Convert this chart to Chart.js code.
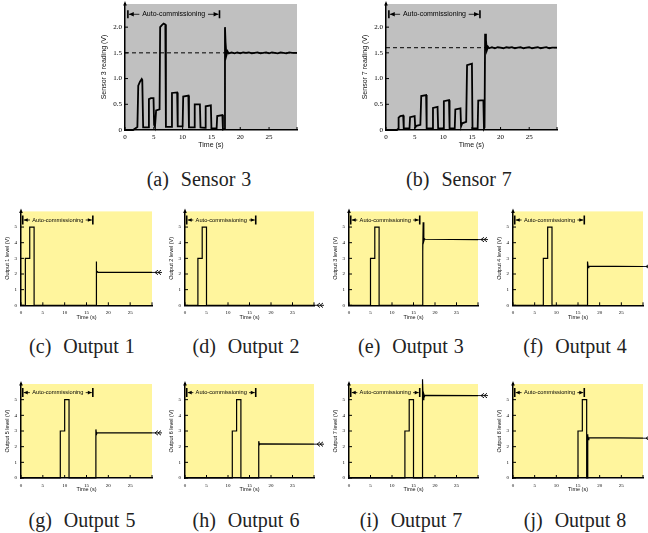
<!DOCTYPE html>
<html>
<head>
<meta charset="utf-8">
<script src="https://cdn.jsdelivr.net/npm/chart.js@4.4.0/dist/chart.umd.min.js"></script>
<style>
  html, body { margin: 0; padding: 0; background: #fff; }
  body { width: 648px; height: 533px; position: relative; overflow: hidden; }
  canvas { position: absolute; }
  .cap { position: absolute; width: 200px; text-align: center; white-space: pre; word-spacing: 1px;
         font-family: "Liberation Serif", serif; font-size: 20px; line-height: 20px; color: #222; }
</style>
</head>
<body>
<script>
// [time (s), volts]
const sensor3 = [
  [0, 0], [1.4, 0], [1.9, 0.04], [2.15, 0.06], [2.3, 0.86], [2.6, 0.94], [2.9, 0.99], [3.0, 0.97],
  [3.15, 0.05], [4.0, 0.05], [4.15, 0.6], [4.5, 0.62], [4.95, 0.62], [5.05, 0.1], [5.2, 0.06],
  [5.4, 0.38], [6.0, 0.4], [6.1, 2.0], [6.4, 2.04], [6.7, 2.07], [7.0, 2.05], [7.1, 0.06],
  [8.0, 0.06], [8.15, 0.72], [9.05, 0.73], [9.15, 0.07], [10.0, 0.07], [10.1, 0.65], [11.0, 0.67],
  [11.1, 0.05], [12.0, 0.05], [12.1, 0.5], [13.0, 0.5], [13.1, 0.05], [13.9, 0.04], [14.0, 0.46],
  [14.9, 0.48], [15.0, 0.03], [15.9, 0.03], [16.0, 0.27], [16.9, 0.29], [17.0, 0.01], [17.25, 0.02],
  [17.35, 2.0], [17.45, 1.7], [17.6, 1.45], [17.8, 1.53], [18.0, 1.49], [18.5, 1.51], [19.0, 1.49],
  [19.5, 1.51], [20.0, 1.49], [20.5, 1.51], [21.0, 1.5], [21.5, 1.51], [22.0, 1.49], [22.5, 1.5],
  [23.0, 1.51], [23.5, 1.49], [24.0, 1.5], [24.5, 1.51], [25.0, 1.49], [25.5, 1.51], [26.0, 1.5],
  [26.5, 1.49], [27.0, 1.51], [27.5, 1.5], [28.0, 1.49], [28.5, 1.51], [29.0, 1.5], [29.85, 1.5]
];
const sensor7 = [
  [0, 0], [1.9, 0], [2.1, 0.02], [2.2, 0.24], [2.5, 0.27], [3.0, 0.28], [3.1, 0.03], [4.1, 0.03],
  [4.2, 0.25], [5.0, 0.27], [5.1, 0.05], [5.3, 0.08], [6.0, 0.1], [6.15, 0.66], [7.0, 0.68],
  [7.1, 0.03], [8.1, 0.03], [8.2, 0.43], [9.0, 0.45], [9.1, 0.03], [10.0, 0.03], [10.1, 0.56],
  [11.0, 0.58], [11.1, 0.03], [12.0, 0.03], [12.1, 0.4], [13.0, 0.42], [13.1, 0.07], [13.3, 0.13],
  [14.0, 0.16], [14.15, 1.26], [15.0, 1.29], [15.1, 0.03], [16.0, 0.03], [16.1, 0.57], [17.0, 0.58],
  [17.1, 0.03], [17.2, 0.05], [17.3, 1.87], [17.45, 1.75], [17.6, 1.55], [17.8, 1.62], [18.0, 1.59],
  [18.5, 1.61], [19.0, 1.59], [19.5, 1.61], [20.0, 1.6], [20.5, 1.59], [21.0, 1.61], [21.5, 1.6],
  [22.0, 1.61], [22.5, 1.59], [23.0, 1.6], [23.5, 1.61], [24.0, 1.59], [24.5, 1.6], [25.0, 1.61],
  [25.5, 1.59], [26.0, 1.6], [26.5, 1.61], [27.0, 1.59], [27.5, 1.6], [28.0, 1.61], [28.5, 1.59],
  [29.0, 1.6], [29.85, 1.6]
];
const sensor3Target = [[0, 1.5], [29.85, 1.5]];
const sensor7Target = [[0, 1.6], [29.85, 1.6]];

const output1 = [[0, 0], [1, 0], [1, 3], [2, 3], [2, 5], [3, 5], [3, 0], [17.2, 0], [17.2, 2.8], [17.35, 2.05], [17.5, 2.15], [17.7, 2.1], [30, 2.1]];
const output2 = [[0, 0], [3, 0], [3, 3], [4, 3], [4, 5], [5, 5], [5, 0], [30, 0]];
const output3 = [[0, 0], [5, 0], [5, 3], [6, 3], [6, 5], [7, 5], [7, 0], [17.1, 0], [17.1, 3.3], [17.15, 4.0], [17.2, 3.4], [17.25, 5.3], [17.4, 4.1], [17.55, 4.25], [17.7, 4.22], [30, 4.2]];
const output4 = [[0, 0], [7, 0], [7, 3], [8, 3], [8, 5], [9, 5], [9, 0], [17.2, 0], [17.2, 2.8], [17.35, 2.4], [17.5, 2.5], [30, 2.48]];
const output5 = [[0, 0], [9, 0], [9, 3], [10, 3], [10, 5], [11, 5], [11, 0], [17.1, 0], [17.15, 3.1], [17.3, 2.8], [17.45, 2.9], [30, 2.88]];
const output6 = [[0, 0], [11, 0], [11, 3], [12, 3], [12, 5], [13, 5], [13, 0], [17.1, 0], [17.15, 2.35], [17.3, 2.12], [17.45, 2.18], [30, 2.16]];
const output7 = [[0, 0], [13, 0], [13, 3], [14, 3], [14, 5], [15, 5], [15, 0], [17.0, 0], [17.05, 6.3], [17.1, 0.5], [17.15, 6.2], [17.25, 5.0], [17.4, 5.35], [17.55, 5.2], [17.7, 5.28], [30, 5.26]];
const output8 = [[0, 0], [15, 0], [15, 3], [16, 3], [16, 5], [17, 5], [17, 0], [17.15, 0], [17.2, 2.8], [17.25, 2.3], [17.3, 2.7], [17.4, 2.45], [17.5, 2.58], [30, 2.54]];
const outputs = [output1, output2, output3, output4, output5, output6, output7, output8];

const annotationText = 'Auto-commissioning';

// look of the two kinds of panel
const kinds = {
  sensor: { yw: 25, xh: 19, padTop: 4, padRight: 6, tickFont: 7, titleFont: 7, annFont: 7,
            level: 2.25, span: [0.5, 16.4], xMax: 29.85, yMax: 2.45, yStep: 0.5, line: 1.8,
            bg: '#c0c0c0', xPad: 3, yPad: 3, barH: 4 },
  output: { yw: 17, xh: 15, padTop: 8, padRight: 13, tickFont: 5, titleFont: 5.5, annFont: 5.7,
            level: 5.45, span: [0.4, 16.45], xMax: 30, yMax: 6, yStep: 1, line: 1.2,
            bg: '#fff59d', xPad: 4.5, yPad: 4, barH: 4.5 }
};

const panels = [
  { kind: 'sensor', series: sensor3, target: sensor3Target, yTitle: 'Sensor 3 reading (V)', caption: '(a)  Sensor 3', box: [125, 4, 297, 130], cap: [199, 169] },
  { kind: 'sensor', series: sensor7, target: sensor7Target, yTitle: 'Sensor 7 reading (V)', caption: '(b)  Sensor 7', box: [386, 4, 557, 130], cap: [459, 169] }
];
const colL = [21, 185, 349, 513], colR = [152, 314, 478, 643], capX = [82, 246, 411, 575];
const rowT = [211.4, 384], rowB = [305.3, 478], capTop = [336, 510];
outputs.forEach((s, i) => {
  const c = i % 4, r = Math.floor(i / 4);
  panels.push({ kind: 'output', series: s, yTitle: 'Output ' + (i + 1) + ' level (V)',
    caption: '(' + 'cdefghij'[i] + ')  Output ' + (i + 1),
    box: [colL[c], rowT[r], colR[c], rowB[r]], cap: [capX[c], capTop[r]], marker: true });
});

const decor = {
  id: 'decor',
  beforeDraw(chart, args, o) {
    const { ctx, chartArea: a } = chart;
    ctx.save();
    ctx.fillStyle = o.bg;
    ctx.fillRect(a.left, a.top, a.right - a.left, a.bottom - a.top);
    ctx.restore();
  },
  afterDraw(chart, args, o) {
    const { ctx, chartArea: a, scales: { x, y } } = chart;
    ctx.save();
    ctx.strokeStyle = '#000';
    ctx.fillStyle = '#000';
    // inward tick marks
    ctx.lineWidth = 1;
    ctx.beginPath();
    x.ticks.forEach(t => {
      if (t.label == null || t.label === '') return;
      const px = x.getPixelForValue(t.value);
      ctx.moveTo(px, a.bottom); ctx.lineTo(px, a.bottom - 3);
    });
    y.ticks.forEach(t => {
      if (t.label == null || t.label === '') return;
      const py = y.getPixelForValue(t.value);
      ctx.moveTo(a.left, py); ctx.lineTo(a.left + 3, py);
    });
    ctx.moveTo(a.right, a.bottom); ctx.lineTo(a.right, a.bottom - 3);
    ctx.stroke();
    // arrow tip on the y axis
    ctx.beginPath();
    ctx.moveTo(a.left, a.top - 3);
    ctx.lineTo(a.left - 1.8, a.top + 1.5);
    ctx.lineTo(a.left + 1.8, a.top + 1.5);
    ctx.closePath();
    ctx.fill();
    // auto-commissioning span
    const yy = y.getPixelForValue(o.level);
    const x0 = x.getPixelForValue(o.span[0]), x1 = x.getPixelForValue(o.span[1]);
    ctx.font = o.annFont + 'px "Liberation Sans", sans-serif';
    ctx.textAlign = 'center';
    ctx.textBaseline = 'middle';
    const w = ctx.measureText(annotationText).width, cx = (x0 + x1) / 2, gap = o.annFont * 0.4;
    ctx.fillText(annotationText, cx, yy);
    ctx.lineWidth = 1.6;
    ctx.beginPath();
    ctx.moveTo(x0, yy - o.barH); ctx.lineTo(x0, yy + o.barH);
    ctx.moveTo(x1, yy - o.barH); ctx.lineTo(x1, yy + o.barH);
    ctx.stroke();
    ctx.lineWidth = 0.8;
    ctx.beginPath();
    ctx.moveTo(x0 + 1, yy); ctx.lineTo(cx - w / 2 - gap, yy);
    ctx.moveTo(cx + w / 2 + gap, yy); ctx.lineTo(x1 - 1, yy);
    ctx.stroke();
    const ah = o.annFont * 0.7;
    ctx.beginPath();
    ctx.moveTo(x0 + 1, yy); ctx.lineTo(x0 + 1 + ah, yy - ah * 0.45); ctx.lineTo(x0 + 1 + ah, yy + ah * 0.45);
    ctx.closePath();
    ctx.moveTo(x1 - 1, yy); ctx.lineTo(x1 - 1 - ah, yy - ah * 0.45); ctx.lineTo(x1 - 1 - ah, yy + ah * 0.45);
    ctx.closePath();
    ctx.fill();
    // end-of-trace marker
    if (o.marker) {
      const data = chart.data.datasets[0].data;
      const py = y.getPixelForValue(data[data.length - 1].y);
      const rx = a.right;
      ctx.lineWidth = 0.9;
      ctx.beginPath();
      ctx.moveTo(rx, py); ctx.lineTo(rx + 10, py);
      [rx + 3, rx + 6].forEach(c => {
        ctx.moveTo(c + 3, py - 2.3); ctx.lineTo(c, py); ctx.lineTo(c + 3, py + 2.3);
      });
      ctx.stroke();
    }
    ctx.restore();
  }
};

panels.forEach(p => {
  const k = kinds[p.kind];
  const [l, t, r, b] = p.box;
  const left = Math.floor(l - k.yw), top = Math.floor(t - k.padTop);
  const width = Math.ceil(r + k.padRight - left), height = Math.ceil(b + k.xh - top);
  const yw = l - left, xh = top + height - b;
  const cv = document.createElement('canvas');
  cv.width = width; cv.height = height;
  cv.style.left = left + 'px'; cv.style.top = top + 'px';
  document.body.appendChild(cv);

  const datasets = [{
    data: p.series.map(([x, y]) => ({ x, y })),
    borderColor: '#000', borderWidth: k.line, pointRadius: 0, tension: 0, clip: false
  }];
  if (p.target) {
    datasets.push({
      data: p.target.map(([x, y]) => ({ x, y })),
      borderColor: '#000', borderWidth: 1, borderDash: [4, 3], pointRadius: 0
    });
  }

  new Chart(cv, {
    type: 'line',
    data: { datasets },
    plugins: [decor],
    options: {
      responsive: false,
      animation: false,
      layout: { padding: { top: t - top, right: left + width - r, left: 0, bottom: 0 } },
      plugins: {
        legend: { display: false },
        tooltip: { enabled: false },
        decor: { ...k, marker: !!p.marker }
      },
      scales: {
        x: {
          type: 'linear', min: 0, max: k.xMax,
          grid: { display: false, drawTicks: false },
          border: { display: true, color: '#000', width: 1.5 },
          ticks: { stepSize: 5, includeBounds: false, padding: k.xPad, color: '#000', maxRotation: 0,
                   font: { family: '"Liberation Serif", serif', size: k.tickFont },
                   callback: v => (v % 5 === 0 && v <= 25 ? String(v) : null) },
          title: { display: true, text: 'Time (s)', color: '#111', padding: 0,
                   font: { family: '"Liberation Sans", sans-serif', size: k.titleFont } },
          afterFit: s => { s.height = xh; s.paddingLeft = 0; s.paddingRight = 0; }
        },
        y: {
          min: 0, max: k.yMax,
          grid: { display: false, drawTicks: false },
          border: { display: true, color: '#000', width: 1.5 },
          ticks: { stepSize: k.yStep, includeBounds: false, padding: k.yPad, color: '#000',
                   font: { family: '"Liberation Serif", serif', size: k.tickFont },
                   callback: v => {
                     if (p.kind === 'output') return v > 5 ? null : String(v);
                     return v === 0 ? '0' : v.toFixed(1);
                   } },
          title: { display: true, text: p.yTitle, color: '#111', padding: 0,
                   font: { family: '"Liberation Sans", sans-serif', size: k.titleFont } },
          afterFit: s => { s.width = yw; s.paddingTop = 0; s.paddingBottom = 0; }
        }
      }
    }
  });

  const cap = document.createElement('div');
  cap.className = 'cap';
  cap.textContent = p.caption;
  cap.style.left = (p.cap[0] - 100) + 'px';
  cap.style.top = p.cap[1] + 'px';
  document.body.appendChild(cap);
});
</script>
</body>
</html>
